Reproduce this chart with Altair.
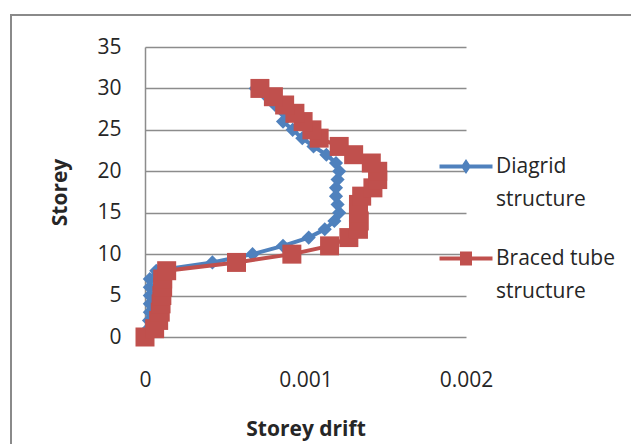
import altair as alt
import pandas as pd

# Storey drift profile of the two structural systems
storeys = list(range(31))
diagrid_drift = [0, 0.00002, 0.000025, 0.00003, 0.00003, 0.00003, 0.00003, 0.00003, 0.00007,
                 0.00042, 0.00067, 0.00086, 0.00102, 0.00112, 0.00118, 0.00121, 0.0012,
                 0.00119, 0.00119, 0.0012, 0.00121,
                 0.00119, 0.00113, 0.00105, 0.00098, 0.00092, 0.00086, 0.00087, 0.00081,
                 0.00076, 0.00069]
braced_drift = [0, 0.00006, 0.000085, 0.000095, 0.0001, 0.000105, 0.00011, 0.00011, 0.000135,
                0.00057, 0.000915, 0.00115, 0.00127, 0.00133, 0.001335, 0.00133, 0.00133,
                0.00135, 0.00142, 0.00145, 0.00145,
                0.00141, 0.0013, 0.00121, 0.001085, 0.00104, 0.000985, 0.000934, 0.00087,
                0.0008, 0.000716]

series_names = ["Diagrid structure", "Braced tube structure"]
series_colors = ["#4F81BD", "#C0504D"]
x_ticks = [0, 0.001, 0.002]
y_ticks = [0, 5, 10, 15, 20, 25, 30, 35]

df = pd.concat([
    pd.DataFrame({"storey": storeys, "drift": diagrid_drift, "series": series_names[0]}),
    pd.DataFrame({"storey": storeys, "drift": braced_drift, "series": series_names[1]}),
])

FONT = "Open Sans"
TEXT = "#262626"
GRID = "#8c8c8c"

x_enc = alt.X("drift:Q", title="Storey drift",
              scale=alt.Scale(domain=[0, 0.002], nice=False),
              axis=alt.Axis(values=x_ticks, format="~g", grid=False, domain=False,
                            ticks=False, tickSize=0, labelPadding=32, titlePadding=28,
                            labelFlush=False))
y_enc = alt.Y("storey:Q", title="Storey",
              scale=alt.Scale(domain=[0, 35], nice=False),
              axis=alt.Axis(values=y_ticks, grid=True, domain=True, ticks=False,
                            tickSize=0, labelPadding=24, titlePadding=26))

base = alt.Chart(df)


def series_layers(name, color, shape, size):
    sub = base.transform_filter(alt.datum.series == name)
    line = sub.mark_line(color=color, strokeWidth=4).encode(x=x_enc, y=y_enc, order="storey:Q")
    pts = sub.mark_point(color=color, filled=True, opacity=1, shape=shape, size=size,
                         strokeWidth=0).encode(x=x_enc, y=y_enc)
    return [line, pts]


# Legend glyphs: a short line with the series marker drawn on it
diamond_key = "M-2.65,-0.2H2.65V0.2H-2.65Z M0,-0.75L0.5,0L0,0.75L-0.5,0Z"
square_key = "M-2.65,-0.2H2.65V0.2H-2.65Z M-0.6,-0.7H0.6V0.7H-0.6Z"
blank_key = "M0,0"


def legend_layer(lines, key, color, ypos):
    return base.transform_filter("false").mark_point(
        color=color, filled=True, opacity=1, strokeWidth=0
    ).encode(
        x=x_enc, y=y_enc,
        shape=alt.Shape(
            "series:N",
            scale=alt.Scale(domain=lines, range=[key, blank_key]),
            legend=alt.Legend(
                title=None, orient="none", legendX=310.5, legendY=ypos, padding=0,
                symbolSize=400, symbolStrokeWidth=0, symbolFillColor=color,
                symbolOpacity=1, labelOffset=19.5, labelFont=FONT, labelFontSize=21,
                labelColor=TEXT, rowPadding=11, labelLimit=300,
            ),
        ),
    )


frame = alt.Chart(pd.DataFrame({"k": [0]})).mark_rect(
    fill="transparent", stroke="#8a8a8a", strokeWidth=2, clip=False
).encode(x=alt.value(-134), x2=alt.value(520), y=alt.value(-32), y2=alt.value(420))

layers = [frame]
layers += series_layers(series_names[0], series_colors[0], "diamond", 200)
layers += series_layers(series_names[1], series_colors[1], "square", 361)
layers.append(legend_layer(["Diagrid", "structure"], diamond_key, series_colors[0], 109))
layers.append(legend_layer(["Braced tube", "structure"], square_key, series_colors[1], 201))

chart = alt.layer(*layers).resolve_scale(shape="independent").resolve_legend(
    shape="independent"
).properties(
    width=321, height=290,
    autosize=alt.AutoSizeParams(type="none"),
    padding={"left": 145, "top": 47, "right": 165, "bottom": 107},
    background="white",
).configure_view(stroke=None).configure_axis(
    labelFont=FONT, labelFontSize=21, labelColor=TEXT,
    titleFont=FONT, titleFontSize=21, titleFontWeight="bold", titleColor=TEXT,
    gridColor=GRID, gridWidth=1.5, domainColor=GRID, domainWidth=1.5,
)

chart.save("out.html", embed_options={"renderer": "svg", "actions": False})
